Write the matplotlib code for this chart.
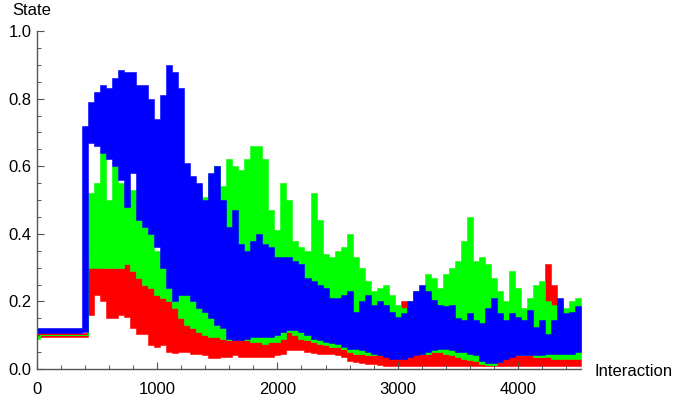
import numpy as np
import matplotlib
matplotlib.use("Agg")
import matplotlib.pyplot as plt
from matplotlib.ticker import MultipleLocator

plt.rcParams['font.family'] = ['Liberation Sans', 'DejaVu Sans']

# interaction steps (every 50) and envelope of each oscillating series
interaction = np.arange(0, 4501, 50)

blue_hi = [0.12, 0.12, 0.12, 0.12, 0.12, 0.12, 0.12, 0.12, 0.72, 0.79,
           0.82, 0.84, 0.83, 0.86, 0.885, 0.88, 0.88, 0.84, 0.84, 0.80,
           0.74, 0.81, 0.90, 0.88, 0.83, 0.61, 0.57, 0.55, 0.50, 0.58,
           0.60, 0.50, 0.42, 0.47, 0.37, 0.35, 0.38, 0.40, 0.37, 0.36,
           0.33, 0.33, 0.33, 0.32, 0.31, 0.27, 0.26, 0.25, 0.24, 0.21,
           0.21, 0.22, 0.23, 0.17, 0.20, 0.22, 0.19, 0.20, 0.19, 0.17,
           0.155, 0.165, 0.20, 0.23, 0.25, 0.23, 0.205, 0.19, 0.185, 0.19,
           0.15, 0.145, 0.165, 0.145, 0.135, 0.18, 0.21, 0.165, 0.145, 0.165,
           0.155, 0.145, 0.175, 0.125, 0.145, 0.105, 0.145, 0.21, 0.165, 0.17,
           0.185]
blue_lo = [0.106, 0.106, 0.106, 0.106, 0.106, 0.106, 0.106, 0.106, 0.11, 0.67,
           0.66, 0.64, 0.62, 0.60, 0.56, 0.48, 0.58, 0.44, 0.42, 0.40,
           0.36, 0.30, 0.24, 0.20, 0.22, 0.22, 0.20, 0.18, 0.17, 0.15,
           0.13, 0.12, 0.09, 0.085, 0.085, 0.09, 0.095, 0.095, 0.095, 0.095,
           0.10, 0.11, 0.115, 0.115, 0.11, 0.10, 0.09, 0.085, 0.08, 0.077,
           0.075, 0.065, 0.06, 0.06, 0.055, 0.05, 0.045, 0.04, 0.035, 0.03,
           0.03, 0.03, 0.035, 0.04, 0.045, 0.05, 0.055, 0.06, 0.06, 0.055,
           0.05, 0.05, 0.045, 0.04, 0.025, 0.018, 0.018, 0.02, 0.03, 0.035,
           0.04, 0.04, 0.04, 0.04, 0.04, 0.045, 0.045, 0.045, 0.045, 0.045,
           0.05]

green_hi = [0.097, 0.10, 0.10, 0.10, 0.10, 0.10, 0.10, 0.10, 0.10, 0.52,
            0.55, 0.64, 0.50, 0.60, 0.55, 0.50, 0.53, 0.50, 0.46, 0.42,
            0.35, 0.32, 0.38, 0.28, 0.27, 0.50, 0.50, 0.53, 0.51, 0.57,
            0.60, 0.54, 0.62, 0.60, 0.59, 0.62, 0.66, 0.66, 0.62, 0.47,
            0.41, 0.55, 0.50, 0.38, 0.36, 0.35, 0.52, 0.44, 0.34, 0.33,
            0.35, 0.36, 0.40, 0.33, 0.30, 0.26, 0.23, 0.24, 0.25, 0.22,
            0.19, 0.18, 0.20, 0.23, 0.22, 0.28, 0.27, 0.24, 0.28, 0.30,
            0.32, 0.38, 0.45, 0.32, 0.33, 0.31, 0.27, 0.23, 0.20, 0.29,
            0.24, 0.18, 0.21, 0.25, 0.26, 0.20, 0.19, 0.20, 0.18, 0.20,
            0.21]
green_lo = [0.090, 0.10, 0.10, 0.10, 0.10, 0.10, 0.10, 0.10, 0.10, 0.30,
            0.30, 0.30, 0.30, 0.30, 0.30, 0.31, 0.29, 0.27, 0.25, 0.24,
            0.22, 0.21, 0.20, 0.18, 0.15, 0.13, 0.12, 0.11, 0.10, 0.095,
            0.095, 0.09, 0.085, 0.11, 0.10, 0.085, 0.08, 0.08, 0.075, 0.08,
            0.08, 0.09, 0.11, 0.10, 0.09, 0.085, 0.08, 0.075, 0.07, 0.065,
            0.065, 0.06, 0.05, 0.045, 0.045, 0.04, 0.04, 0.04, 0.045, 0.05,
            0.05, 0.05, 0.05, 0.045, 0.045, 0.045, 0.05, 0.05, 0.045, 0.04,
            0.035, 0.03, 0.027, 0.025, 0.015, 0.012, 0.012, 0.02, 0.035, 0.04,
            0.04, 0.04, 0.04, 0.035, 0.035, 0.035, 0.03, 0.03, 0.03, 0.03,
            0.03]

red_hi = [0.106, 0.106, 0.106, 0.106, 0.106, 0.106, 0.106, 0.106, 0.106, 0.34,
          0.31, 0.30, 0.30, 0.30, 0.30, 0.31, 0.29, 0.27, 0.25, 0.24,
          0.22, 0.21, 0.20, 0.18, 0.15, 0.13, 0.12, 0.11, 0.10, 0.095,
          0.095, 0.09, 0.085, 0.11, 0.10, 0.085, 0.08, 0.08, 0.075, 0.08,
          0.08, 0.09, 0.11, 0.10, 0.09, 0.085, 0.08, 0.075, 0.07, 0.065,
          0.065, 0.06, 0.05, 0.045, 0.045, 0.04, 0.04, 0.04, 0.045, 0.05,
          0.05, 0.20, 0.05, 0.045, 0.045, 0.045, 0.05, 0.05, 0.045, 0.04,
          0.035, 0.03, 0.027, 0.025, 0.015, 0.012, 0.012, 0.02, 0.035, 0.04,
          0.04, 0.04, 0.04, 0.035, 0.035, 0.31, 0.25, 0.03, 0.03, 0.03,
          0.03]
red_lo = [0.096, 0.096, 0.096, 0.096, 0.096, 0.096, 0.096, 0.096, 0.096, 0.16,
          0.22, 0.20, 0.15, 0.15, 0.16, 0.155, 0.12, 0.105, 0.105, 0.07,
          0.065, 0.07, 0.05, 0.047, 0.05, 0.05, 0.045, 0.045, 0.04, 0.032,
          0.033, 0.035, 0.035, 0.04, 0.036, 0.036, 0.036, 0.036, 0.036, 0.036,
          0.04, 0.045, 0.055, 0.056, 0.055, 0.05, 0.047, 0.045, 0.045, 0.045,
          0.04, 0.035, 0.025, 0.02, 0.018, 0.015, 0.015, 0.012, 0.01, 0.01,
          0.01, 0.01, 0.008, 0.008, 0.008, 0.008, 0.008, 0.008, 0.008, 0.008,
          0.008, 0.008, 0.008, 0.008, 0.008, 0.008, 0.008, 0.008, 0.008, 0.008,
          0.008, 0.008, 0.008, 0.008, 0.008, 0.008, 0.008, 0.008, 0.008, 0.008,
          0.008]

x_end = 4525

fig = plt.figure(figsize=(6.85, 3.95), dpi=100)
ax = fig.add_axes([37 / 685, 1 - 369 / 395, 544 / 685, 338 / 395])

# extend last step to the end of the run
xs = np.append(interaction, x_end)
series = [(red_lo, red_hi, '#ff0000', 1),
          (green_lo, green_hi, '#00ff00', 2),
          (blue_lo, blue_hi, '#0000ff', 3)]
for lo, hi, col, z in series:
    lo = np.append(lo, lo[-1])
    hi = np.append(hi, hi[-1])
    ax.fill_between(xs, lo, hi, step='mid', color=col, lw=0.4, zorder=z)

ax.set_xlim(0, x_end)
ax.set_ylim(0, 1.0)
for s in ['top', 'right']:
    ax.spines[s].set_visible(False)
for s in ['left', 'bottom']:
    ax.spines[s].set_color('#555555')
    ax.spines[s].set_linewidth(1.0)
    ax.spines[s].set_zorder(5)

ax.xaxis.set_major_locator(MultipleLocator(1000))
ax.xaxis.set_minor_locator(MultipleLocator(200))
ax.yaxis.set_major_locator(MultipleLocator(0.2))
ax.yaxis.set_minor_locator(MultipleLocator(0.05))
ax.set_yticks([0.0, 0.2, 0.4, 0.6, 0.8, 1.0])
ax.set_yticklabels(['0.0', '0.2', '0.4', '0.6', '0.8', '1.0'])
ax.tick_params(which='major', direction='in', length=5, width=0.8,
               color='#555555', labelsize=12)
ax.tick_params(which='minor', direction='in', length=3, width=0.7,
               color='#555555')
ax.tick_params(axis='x', which='major', pad=9)
ax.tick_params(axis='y', which='major', pad=4)

fig.text(12 / 685, 1 - 15 / 395, 'State', fontsize=12, ha='left', va='baseline')
fig.text(595 / 685, 1 - 375.5 / 395, 'Interaction', fontsize=12,
         ha='left', va='baseline')

fig.savefig('out.png', dpi=100)
